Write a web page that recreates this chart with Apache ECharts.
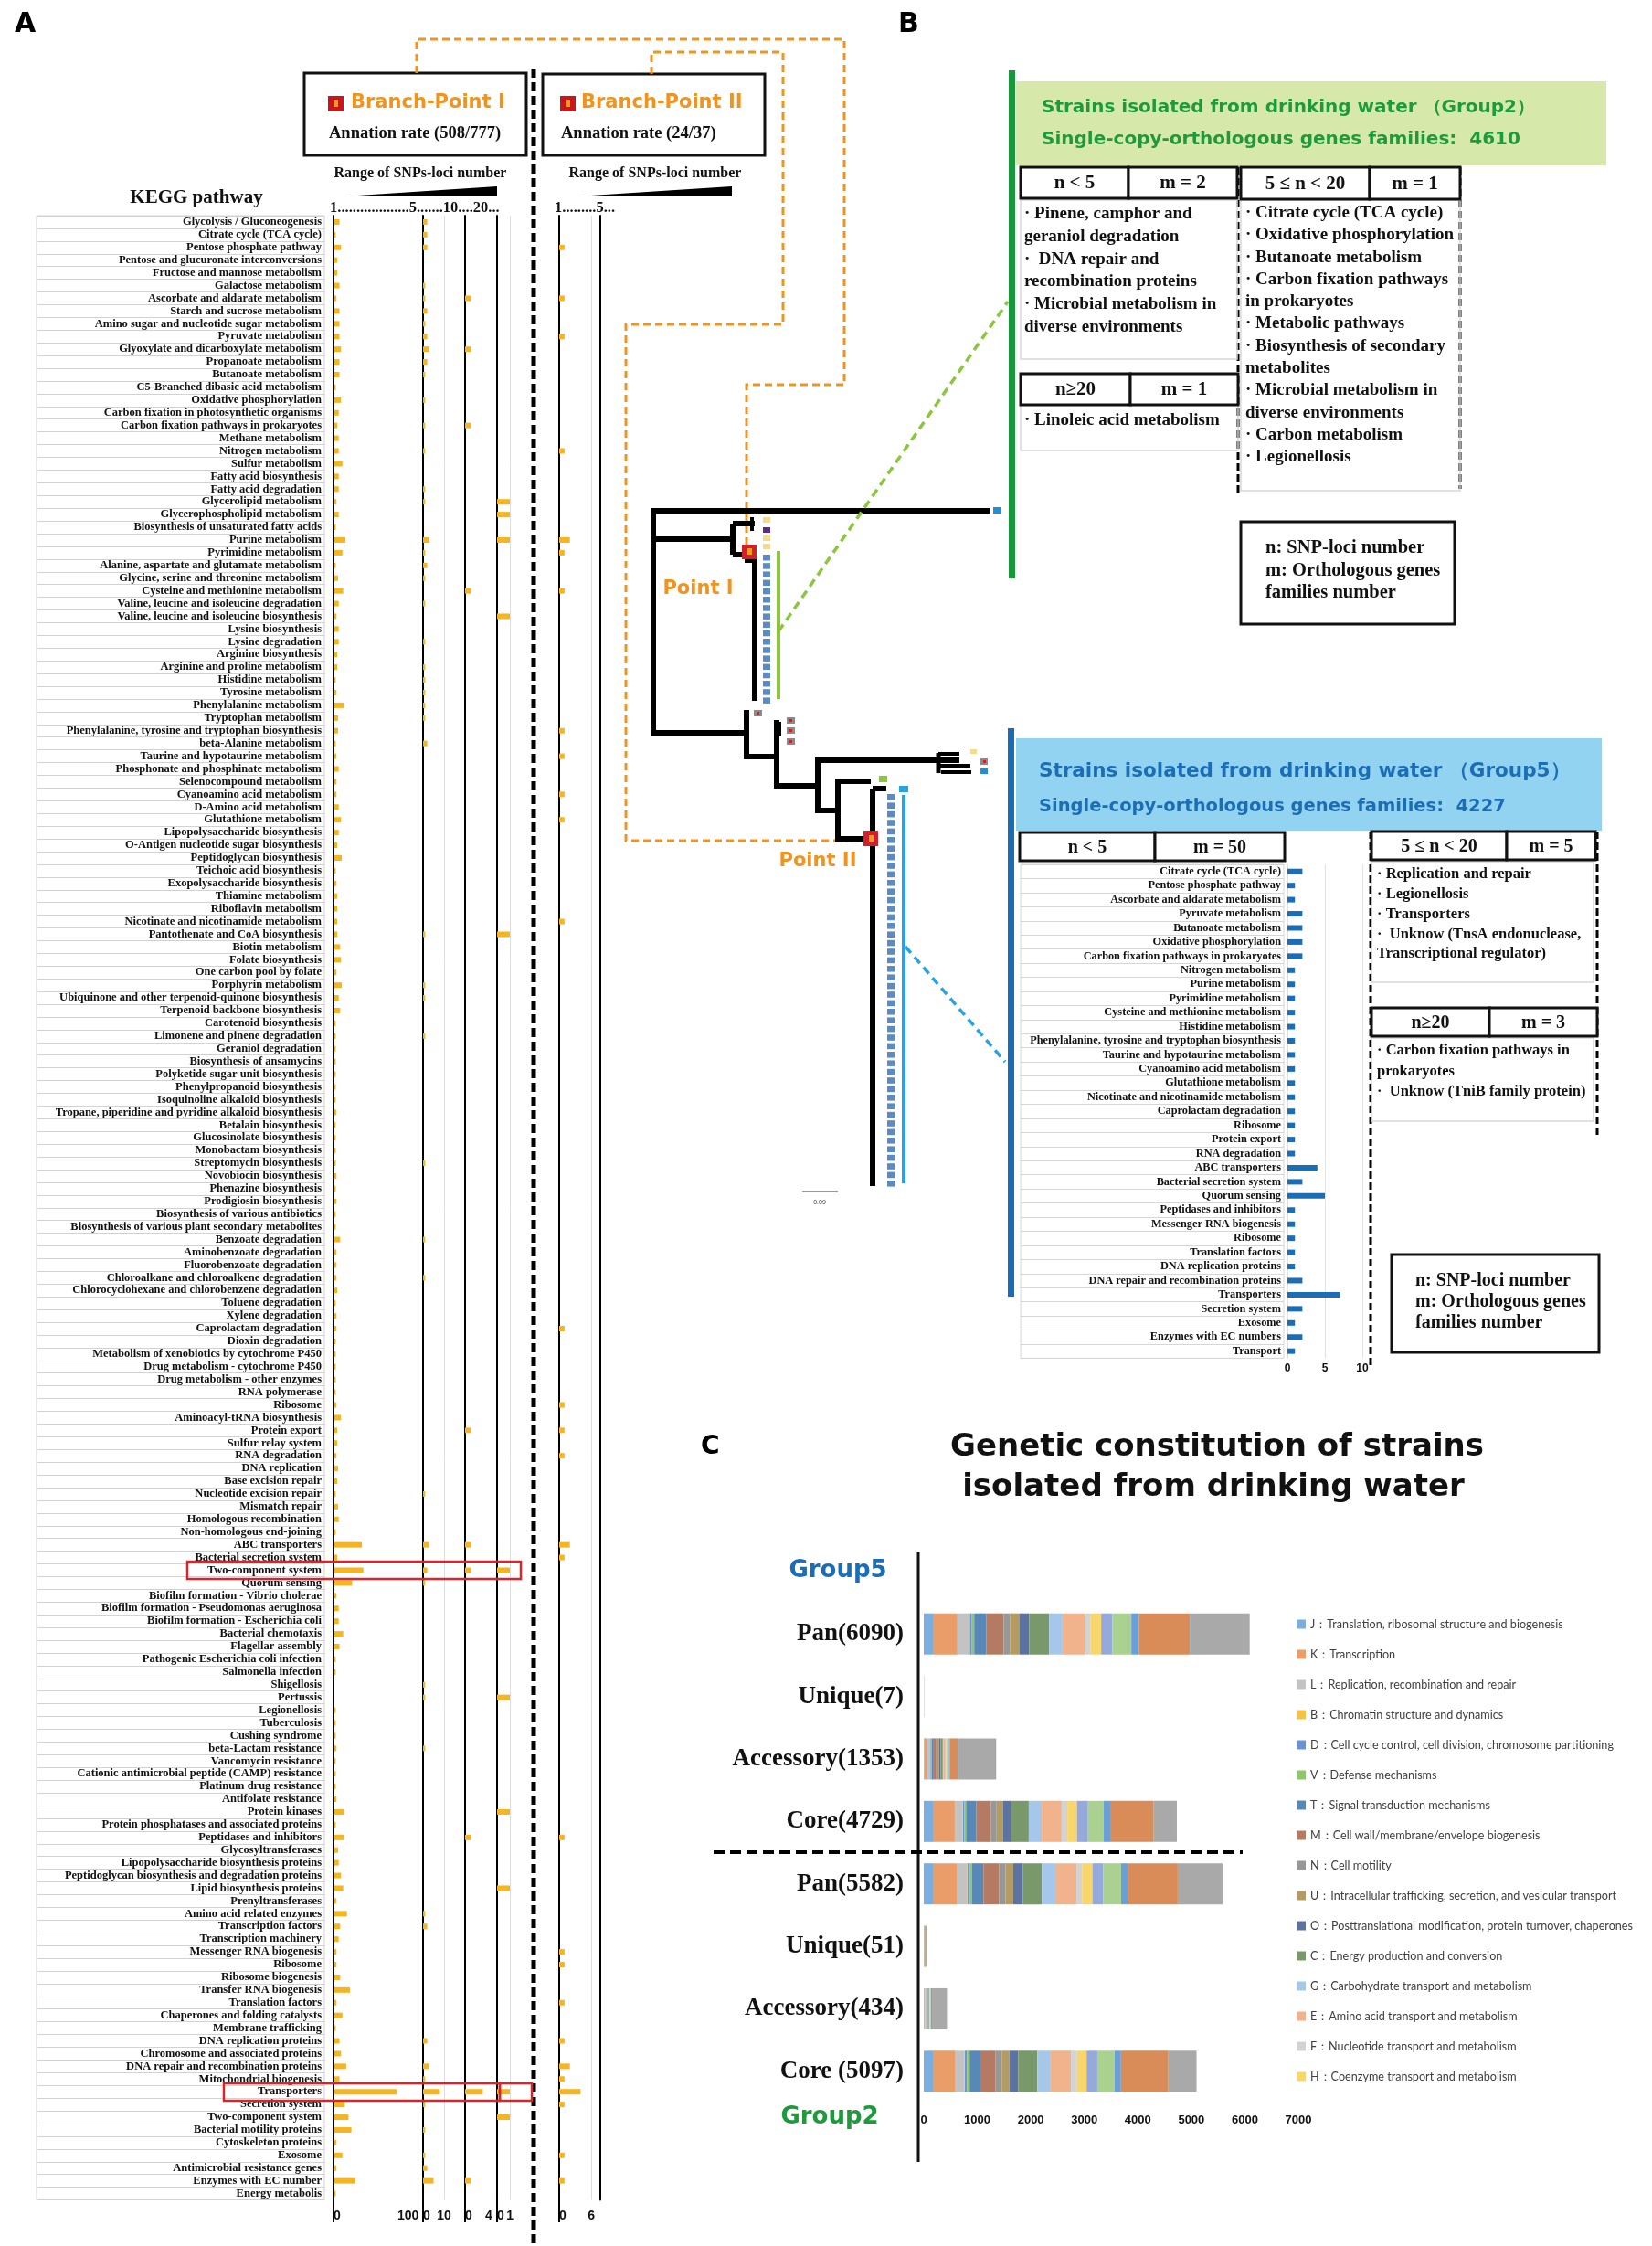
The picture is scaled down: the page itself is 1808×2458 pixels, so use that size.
<!DOCTYPE html>
<html>
<head>
<meta charset="utf-8">
<script src="https://cdn.jsdelivr.net/npm/echarts/dist/echarts.min.js"></script>
<style>html,body{margin:0;padding:0;background:#fff}#c{width:1808px;height:2458px}</style>
</head>
<body>
<div id="c"></div>
<script>
// ---------------- DATA ----------------
const keggPathways = [
"Glycolysis / Gluconeogenesis","Citrate cycle (TCA cycle)","Pentose phosphate pathway","Pentose and glucuronate interconversions","Fructose and mannose metabolism","Galactose metabolism","Ascorbate and aldarate metabolism","Starch and sucrose metabolism","Amino sugar and nucleotide sugar metabolism","Pyruvate metabolism",
"Glyoxylate and dicarboxylate metabolism","Propanoate metabolism","Butanoate metabolism","C5-Branched dibasic acid metabolism","Oxidative phosphorylation","Carbon fixation in photosynthetic organisms","Carbon fixation pathways in prokaryotes","Methane metabolism","Nitrogen metabolism","Sulfur metabolism",
"Fatty acid biosynthesis","Fatty acid degradation","Glycerolipid metabolism","Glycerophospholipid metabolism","Biosynthesis of unsaturated fatty acids","Purine metabolism","Pyrimidine metabolism","Alanine, aspartate and glutamate metabolism","Glycine, serine and threonine metabolism","Cysteine and methionine metabolism",
"Valine, leucine and isoleucine degradation","Valine, leucine and isoleucine biosynthesis","Lysine biosynthesis","Lysine degradation","Arginine biosynthesis","Arginine and proline metabolism","Histidine metabolism","Tyrosine metabolism","Phenylalanine metabolism","Tryptophan metabolism",
"Phenylalanine, tyrosine and tryptophan biosynthesis","beta-Alanine metabolism","Taurine and hypotaurine metabolism","Phosphonate and phosphinate metabolism","Selenocompound metabolism","Cyanoamino acid metabolism","D-Amino acid metabolism","Glutathione metabolism","Lipopolysaccharide biosynthesis","O-Antigen nucleotide sugar biosynthesis",
"Peptidoglycan biosynthesis","Teichoic acid biosynthesis","Exopolysaccharide biosynthesis","Thiamine metabolism","Riboflavin metabolism","Nicotinate and nicotinamide metabolism","Pantothenate and CoA biosynthesis","Biotin metabolism","Folate biosynthesis","One carbon pool by folate",
"Porphyrin metabolism","Ubiquinone and other terpenoid-quinone biosynthesis","Terpenoid backbone biosynthesis","Carotenoid biosynthesis","Limonene and pinene degradation","Geraniol degradation","Biosynthesis of ansamycins","Polyketide sugar unit biosynthesis","Phenylpropanoid biosynthesis","Isoquinoline alkaloid biosynthesis",
"Tropane, piperidine and pyridine alkaloid biosynthesis","Betalain biosynthesis","Glucosinolate biosynthesis","Monobactam biosynthesis","Streptomycin biosynthesis","Novobiocin biosynthesis","Phenazine biosynthesis","Prodigiosin biosynthesis","Biosynthesis of various antibiotics","Biosynthesis of various plant secondary metabolites",
"Benzoate degradation","Aminobenzoate degradation","Fluorobenzoate degradation","Chloroalkane and chloroalkene degradation","Chlorocyclohexane and chlorobenzene degradation","Toluene degradation","Xylene degradation","Caprolactam degradation","Dioxin degradation","Metabolism of xenobiotics by cytochrome P450",
"Drug metabolism - cytochrome P450","Drug metabolism - other enzymes","RNA polymerase","Ribosome","Aminoacyl-tRNA biosynthesis","Protein export","Sulfur relay system","RNA degradation","DNA replication","Base excision repair",
"Nucleotide excision repair","Mismatch repair","Homologous recombination","Non-homologous end-joining","ABC transporters","Bacterial secretion system","Two-component system","Quorum sensing","Biofilm formation - Vibrio cholerae","Biofilm formation - Pseudomonas aeruginosa",
"Biofilm formation - Escherichia coli","Bacterial chemotaxis","Flagellar assembly","Pathogenic Escherichia coli infection","Salmonella infection","Shigellosis","Pertussis","Legionellosis","Tuberculosis","Cushing syndrome",
"beta-Lactam resistance","Vancomycin resistance","Cationic antimicrobial peptide (CAMP) resistance","Platinum drug resistance","Antifolate resistance","Protein kinases","Protein phosphatases and associated proteins","Peptidases and inhibitors","Glycosyltransferases","Lipopolysaccharide biosynthesis proteins",
"Peptidoglycan biosynthesis and degradation proteins","Lipid biosynthesis proteins","Prenyltransferases","Amino acid related enzymes","Transcription factors","Transcription machinery","Messenger RNA biogenesis","Ribosome","Ribosome biogenesis","Transfer RNA biogenesis",
"Translation factors","Chaperones and folding catalysts","Membrane trafficking","DNA replication proteins","Chromosome and associated proteins","DNA repair and recombination proteins","Mitochondrial biogenesis","Transporters","Secretion system","Two-component system",
"Bacterial motility proteins","Cytoskeleton proteins","Exosome","Antimicrobial resistance genes","Enzymes with EC number","Energy metabolis"
];

// Branch-Point I : number of SNP loci per pathway, by range of SNPs-loci number
const bp1Lt5 = [
8,3,10,5,5,8,4,8,8,8,
10,8,8,3,10,7,5,7,7,12,
7,7,4,7,3,16,12,3,6,13,
7,4,7,7,5,5,3,4,14,6,
6,3,4,7,4,4,7,10,7,5,
11,3,4,5,5,5,5,9,10,4,
11,7,9,3,3,3,3,3,3,3,
4,3,3,3,3,4,3,4,3,3,
9,4,4,4,5,3,4,4,3,3,
3,3,3,4,10,5,5,4,6,5,
3,6,7,3,38,5,40,25,4,7,
7,13,8,3,3,0,0,3,3,3,
4,3,3,3,4,14,3,14,6,7,
10,13,4,18,9,7,4,4,9,22,
4,12,3,8,10,17,8,85,15,20,
24,4,12,4,29,3
];
const bp1From5To10 = [
2,2,2,0,0,1,1,2,1,2,
3,2,1,0,1,0,1,0,1,0,
0,1,1,0,0,3,1,2,1,0,
1,0,0,1,0,1,1,1,1,1,
0,2,0,0,0,0,0,0,0,0,
0,0,0,0,0,0,1,0,0,0,
1,1,0,0,1,0,0,0,0,0,
0,0,0,0,1,0,0,0,0,0,
1,0,0,1,0,0,0,0,0,0,
0,0,0,0,0,0,0,0,0,0,
1,0,0,0,3,0,2,1,0,0,
0,0,0,0,0,1,1,0,0,0,
1,0,0,0,0,0,0,0,0,0,
0,0,0,1,2,0,0,0,0,0,
0,0,0,2,0,3,1,8,1,0,
1,0,1,2,5,0
];
const bp1From10To20 = [
0,0,0,0,0,0,1,0,0,0,
1,0,0,0,0,0,1,0,0,0,
0,0,0,0,0,0,0,0,0,1,
0,0,0,0,0,0,0,0,0,0,
0,0,0,0,0,0,0,0,0,0,
0,0,0,0,0,0,0,0,0,0,
0,0,0,0,0,0,0,0,0,0,
0,0,0,0,0,0,0,0,0,0,
0,0,0,0,0,0,0,0,0,0,
0,0,0,0,0,1,0,0,0,0,
0,0,0,0,1,0,1,0,0,0,
0,0,0,0,0,0,0,0,0,0,
0,0,0,0,0,0,0,1,0,0,
0,0,0,0,0,0,0,0,0,0,
0,0,0,0,0,0,0,3,0,0,
0,0,0,0,1,0
];
const bp1Ge20 = [
0,0,0,0,0,0,0,0,0,0,
0,0,0,0,0,0,0,0,0,0,
0,0,1,1,0,1,0,0,0,0,
0,1,0,0,0,0,0,0,0,0,
0,0,0,0,0,0,0,0,0,0,
0,0,0,0,0,0,1,0,0,0,
0,0,0,0,0,0,0,0,0,0,
0,0,0,0,0,0,0,0,0,0,
0,0,0,0,0,0,0,0,0,0,
0,0,0,0,0,0,0,0,0,0,
0,0,0,0,0,0,1,0,0,0,
0,0,0,0,0,0,1,0,0,0,
0,0,0,0,0,1,0,0,0,0,
0,1,0,0,0,0,0,0,0,0,
0,0,0,0,0,0,0,1,0,1,
0,0,0,0,0,0
];
// Branch-Point II
const bp2Lt5 = [
0,0,1,0,0,0,1,0,0,1,
0,0,0,0,0,0,0,0,1,0,
0,0,0,0,0,2,1,0,0,1,
0,0,0,0,0,0,0,0,0,0,
1,0,1,0,0,1,0,1,0,0,
0,0,0,0,0,1,0,0,0,0,
0,0,0,0,0,0,0,0,0,0,
0,0,0,0,0,0,0,0,0,0,
0,0,0,0,0,0,0,1,0,0,
0,0,0,1,0,1,0,1,0,0,
0,0,0,0,2,1,0,0,0,0,
0,0,0,0,0,0,0,0,0,0,
0,0,0,0,0,0,0,1,0,0,
0,0,0,0,0,0,1,1,0,0,
1,0,0,1,0,2,1,4,1,0,
0,0,1,0,1,0
];
const bp1AxisLabels = [[0,100],[0,10],[0,4],[0,1]];
const bp2AxisLabels = [0,6];

// Panel B (Group5, n<5)
const group5Pathways = ["Citrate cycle (TCA cycle)","Pentose phosphate pathway","Ascorbate and aldarate metabolism","Pyruvate metabolism","Butanoate metabolism","Oxidative phosphorylation","Carbon fixation pathways in prokaryotes","Nitrogen metabolism","Purine metabolism","Pyrimidine metabolism","Cysteine and methionine metabolism","Histidine metabolism","Phenylalanine, tyrosine and tryptophan biosynthesis","Taurine and hypotaurine metabolism","Cyanoamino acid metabolism","Glutathione metabolism","Nicotinate and nicotinamide metabolism","Caprolactam degradation","Ribosome","Protein export","RNA degradation","ABC transporters","Bacterial secretion system","Quorum sensing","Peptidases and inhibitors","Messenger RNA biogenesis","Ribosome","Translation factors","DNA replication proteins","DNA repair and recombination proteins","Transporters","Secretion system","Exosome","Enzymes with EC numbers","Transport"];
const group5SnpLoci = [2,1,1,2,2,2,2,1,1,1,1,1,1,1,1,1,1,1,1,1,1,4,2,5,1,1,1,1,1,2,7,2,1,2,1];

// Panel C
const constitutionCategories = ["Pan(6090)","Unique(7)","Accessory(1353)","Core(4729)","Pan(5582)","Unique(51)","Accessory(434)","Core (5097)"];
const cogCodes = ["J","K","L","B","D","V","T","M","N","U","O","C","G","E","F","H","I","P","Q","R","S"];
const cogLegendCodes = ["J","K","L","B","D","V","T","M","N","U","O","C","G","E","F","H"];
const cogNames = {
  J:"Translation, ribosomal structure and biogenesis", K:"Transcription", L:"Replication, recombination and repair",
  B:"Chromatin structure and dynamics", D:"Cell cycle control, cell division, chromosome partitioning", V:"Defense mechanisms",
  T:"Signal transduction mechanisms", M:"Cell wall/membrane/envelope biogenesis", N:"Cell motility",
  U:"Intracellular trafficking, secretion, and vesicular transport", O:"Posttranslational modification, protein turnover, chaperones",
  C:"Energy production and conversion", G:"Carbohydrate transport and metabolism", E:"Amino acid transport and metabolism",
  F:"Nucleotide transport and metabolism", H:"Coenzyme transport and metabolism", I:"Lipid transport and metabolism",
  P:"Inorganic ion transport and metabolism", Q:"Secondary metabolites biosynthesis, transport and catabolism",
  R:"General function prediction only", S:"Function unknown"
};
// gene counts per COG (order of cogCodes)
const group5Pan       = [186,443,229,5,35,45,229,321,121,179,179,371,250,414,114,193,207,357,143,950,1119];
const group5Unique    = [0,0,2,0,0,0,0,0,0,0,0,0,0,0,0,0,0,0,0,0,5];
const group5Accessory = [8,50,64,2,10,15,36,50,14,36,29,42,7,43,7,14,7,36,17,150,716];
const group5Core      = [186,393,150,5,25,32,193,271,107,121,150,329,243,371,107,179,207,293,121,814,432];
const group2Pan       = [186,429,200,5,36,45,214,293,121,143,179,357,250,393,107,193,200,336,129,929,837];
const group2Unique    = [0,6,5,0,0,0,0,8,0,12,0,0,0,0,0,0,0,0,0,0,20];
const group2Accessory = [5,20,25,0,3,5,8,10,5,8,5,7,3,10,3,5,3,7,3,19,280];
const group2Core      = [186,407,171,5,40,48,200,286,114,143,164,357,250,379,114,179,200,321,121,886,526];

// ---------------- STYLE ----------------
const SERIF = '"Liberation Serif","DejaVu Serif",serif';
const SANS = '"Liberation Sans",Arial,sans-serif';
const HEAVY = '"DejaVu Sans",sans-serif';
const ORANGE = '#ef9421';
const BAR_YELLOW = '#f5b523';
const BLUE = '#1b6db6';
const GREEN = '#1e9a3c';
const cogColors = {J:'#7aaee0',K:'#ea9c69',L:'#c3c3c3',B:'#f5c343',D:'#6b93d1',V:'#8ec56d',T:'#5888b8',M:'#b57b62',N:'#979797',U:'#b49b61',O:'#5c73a1',C:'#79996a',G:'#a5c7e9',E:'#f1b38c',F:'#d3d3d3',H:'#f8d66b',I:'#95a9dd',P:'#abd190',Q:'#6aa0d8',R:'#da8c58',S:'#a9a9a9'};

const chart = echarts.init(document.getElementById('c'), null, {renderer:'canvas', width:1808, height:2458});

const grids = [], xAxes = [], yAxes = [], series = [];

// ---- Panel A label table ----
const A_TOP = 236, A_ROW = 13.92, A_H = A_ROW * keggPathways.length;
grids.push({left:40, top:A_TOP, width:315, height:A_H, show:true, borderColor:'#d2d2d2', borderWidth:1});
xAxes.push({gridIndex:0, type:'value', show:false, min:0, max:1});
yAxes.push({gridIndex:0, type:'category', data:keggPathways, inverse:true, position:'right',
  axisLine:{show:false}, axisTick:{show:false},
  axisLabel:{inside:true, interval:0, margin:3, fontFamily:SERIF, fontWeight:'bold', fontSize:12.5, color:'#111'},
  splitLine:{show:true, interval:0, lineStyle:{color:'#d2d2d2', width:1}}});

// ---- Panel A columns ----
const colSpecs = [
  {left:365, width:98, max:120, interval:100, labels:bp1AxisLabels[0], mark:null, values:bp1Lt5},
  {left:463, width:46, max:20,  interval:10,  labels:bp1AxisLabels[1], mark:10,   values:bp1From5To10},
  {left:509, width:35, max:5.4, interval:4,   labels:bp1AxisLabels[2], mark:null, values:bp1From10To20},
  {left:544, width:38, max:2.7, interval:1,   labels:bp1AxisLabels[3], mark:1,    values:bp1Ge20},
  {left:612, width:45, max:7.7, interval:6,   labels:bp2AxisLabels,    mark:6,    values:bp2Lt5},
  {left:657, width:30, max:1,   interval:1,   labels:[],               mark:null, values:null}
];
colSpecs.forEach(c => {
  const gi = grids.length;
  grids.push({left:c.left, top:A_TOP, width:c.width, height:A_H});
  xAxes.push({gridIndex:gi, type:'value', min:0, max:c.max, interval:c.interval, show:c.labels.length>0,
    axisLine:{show:false}, axisTick:{show:false}, splitLine:{show:false},
    axisLabel:{margin:11, fontFamily:SANS, fontWeight:'bold', fontSize:14, color:'#111', alignMinLabel:'left', showMaxLabel:false,
      formatter: v => (c.labels.indexOf(v) >= 0 ? String(v) : '')}});
  yAxes.push({gridIndex:gi, type:'category', data:keggPathways, inverse:true,
    axisLine:{show:true, lineStyle:{color:'#000', width:2}}, axisTick:{show:false}, axisLabel:{show:false}, splitLine:{show:false}});
  if (c.values) {
    const s = {type:'bar', xAxisIndex:gi, yAxisIndex:gi, data:c.values, barWidth:6, silent:true, itemStyle:{color:BAR_YELLOW}};
    if (c.mark != null) s.markLine = {silent:true, symbol:'none', label:{show:false}, lineStyle:{color:'#dedede', width:1, type:'solid'}, data:[{xAxis:c.mark}]};
    series.push(s);
  }
});

// ---- Panel B bar chart ----
const B_TOP = 946, B_ROW = 15.44, B_H = B_ROW * group5Pathways.length;
let gi = grids.length;
grids.push({left:1117, top:B_TOP, width:288, height:B_H, show:true, borderColor:'#d6d6d6', borderWidth:1});
xAxes.push({gridIndex:gi, type:'value', show:false, min:0, max:1});
yAxes.push({gridIndex:gi, type:'category', data:group5Pathways, inverse:true, position:'right',
  axisLine:{show:false}, axisTick:{show:false},
  axisLabel:{inside:true, interval:0, margin:3, fontFamily:SERIF, fontWeight:'bold', fontSize:12.3, color:'#111'},
  splitLine:{show:true, interval:0, lineStyle:{color:'#d6d6d6', width:1}}});
gi = grids.length;
grids.push({left:1409, top:B_TOP, width:82, height:B_H});
xAxes.push({gridIndex:gi, type:'value', min:0, max:10, interval:5,
  axisLine:{show:false}, axisTick:{show:false},
  splitLine:{show:true, lineStyle:{color:'#e2e2e2', width:1}},
  axisLabel:{margin:5, fontFamily:SANS, fontWeight:'bold', fontSize:12, color:'#111'}});
yAxes.push({gridIndex:gi, type:'category', data:group5Pathways, inverse:true, show:false});
series.push({type:'bar', xAxisIndex:gi, yAxisIndex:gi, data:group5SnpLoci, barWidth:6, silent:true, itemStyle:{color:BLUE}});

// ---- Panel C stacked bars ----
gi = grids.length;
grids.push({left:1011, top:1754, width:410, height:547});
xAxes.push({gridIndex:gi, type:'value', min:0, max:7000, interval:1000,
  axisLine:{show:false}, axisTick:{show:false}, splitLine:{show:false},
  axisLabel:{margin:13, fontFamily:SANS, fontWeight:'bold', fontSize:13, color:'#111', formatter: v => String(v)}});
yAxes.push({gridIndex:gi, type:'category', data:constitutionCategories, inverse:true,
  axisLine:{show:false}, axisTick:{show:false},
  axisLabel:{margin:22, fontFamily:SERIF, fontWeight:'bold', fontSize:27, color:'#111'}});
const constitutionRows = [group5Pan, group5Unique, group5Accessory, group5Core, group2Pan, group2Unique, group2Accessory, group2Core];
cogCodes.forEach((code, k) => {
  series.push({type:'bar', name:code, stack:'cog', xAxisIndex:gi, yAxisIndex:gi, barWidth:45, silent:true,
    itemStyle:{color:cogColors[code]}, data:constitutionRows.map(r => r[k])});
});

// ---------------- GRAPHIC (annotations, tree, boxes) ----------------
const G = [];
function line(x1,y1,x2,y2,stroke,w,dash){G.push({type:'line',silent:true,z:100,shape:{x1,y1,x2,y2},style:{stroke,lineWidth:w,lineDash:dash||null}});}
function pline(points,stroke,w,dash){G.push({type:'polyline',silent:true,z:100,shape:{points},style:{stroke,lineWidth:w,fill:null,lineDash:dash||null,lineJoin:'miter'}});}
function rect(x,y,w,h,fill,stroke,lw,dash){G.push({type:'rect',silent:true,z:100,shape:{x,y,width:w,height:h},style:{fill:fill||'none',stroke:stroke||null,lineWidth:lw||0,lineDash:dash||null}});}
function poly(points,fill){G.push({type:'polygon',silent:true,z:100,shape:{points},style:{fill}});}
function text(t,x,y,font,fill,align){G.push({type:'text',silent:true,z:101,x,y,style:{text:t,font,fill,textAlign:align||'left',textVerticalAlign:'middle',align:align||'left',verticalAlign:'middle'}});}
const sb = s => `bold ${s}px ${SERIF}`;

// Panel letters
text('A', 16, 27, `bold 30px ${HEAVY}`, '#000');
text('B', 983, 27, `bold 30px ${HEAVY}`, '#000');
text('C', 767, 1584, `bold 28px ${HEAVY}`, '#000');

// Panel A header
rect(333, 80, 243, 90, 'none', '#111', 3);
rect(594, 81, 243, 89, 'none', '#111', 3);
rect(359, 105, 17, 17, '#c8161d'); rect(365, 109, 5, 8, '#f39a1e');
rect(613, 105, 17, 17, '#c8161d'); rect(619, 109, 5, 8, '#f39a1e');
text('Branch-Point I', 384, 113, `bold 21px ${HEAVY}`, ORANGE);
text('Branch-Point II', 636, 113, `bold 21px ${HEAVY}`, ORANGE);
text('Annation rate (508/777)', 360, 146, sb(18.5), '#111');
text('Annation rate (24/37)', 614, 146, sb(18.5), '#111');
text('Range of SNPs-loci number', 460, 190, sb(16), '#111', 'center');
text('Range of SNPs-loci number', 717, 190, sb(16), '#111', 'center');
poly([[376,215],[544,204],[544,215]], '#000');
poly([[631,215],[801,204],[801,215]], '#000');
text('1...................5.......10....20...', 361, 228, sb(16.5), '#111');
text('1.........5...', 607, 228, sb(16.5), '#111');
text('KEGG pathway', 215, 217, sb(21), '#111', 'center');
// column lines extend below grid
[365,463,509,544,612].forEach(x => line(x, A_TOP + A_H, x, 2432, '#000', 2));
// central dashed separator
line(584, 75, 584, 2458, '#000', 5, [10,5]);
// highlight boxes
rect(205, 1709, 365, 19, 'none', '#d7262b', 2.5);
rect(245, 2280, 302, 19, 'none', '#d7262b', 2.5);
rect(547, 2280, 35, 19, 'none', '#d7262b', 2.5);

// Orange connectors
pline([[456,80],[456,43],[924,43],[924,421],[817,421],[817,596]], ORANGE, 3, [8,5]);
pline([[713,81],[713,57],[857,57],[857,355],[685,355],[685,920],[945,920]], ORANGE, 3, [8,5]);

// ---- Tree ----
const K = '#000', TW = 6;
pline([[1083,559],[715,559],[715,802],[817,802]], K, TW);
line(715,590,802,590,K,TW);
line(802,573,802,607,K,TW);
line(802,573,826,573,K,TW);
line(823,566,823,581,K,4);
line(802,607,822,607,K,TW);
line(815,613,826,613,K,TW);
line(826,612,826,767,K,TW);
pline([[817,777],[817,828],[850,828]], K, TW);
pline([[850,788],[850,860],[895,860]], K, TW);
line(853,790,853,805,K,4);
pline([[1050,832],[895,832],[895,887],[917,887]], K, TW);
line(1027,824,1027,846,K,5);
line(1027,825,1050,825,K,4);
line(1027,838,1062,838,K,4);
line(1030,845,1063,845,K,4);
pline([[953,855],[917,855],[917,918],[945,918]], K, TW);
line(955,863,955,1298,K,TW);
line(955,863,970,863,K,TW);
// point markers
rect(812, 596, 16, 16, '#d0202a'); rect(817, 600, 6, 7, '#f39a1e');
rect(945, 909, 16, 17, '#d0202a'); rect(951, 914, 5, 7, '#f39a1e');
text('Point I', 764, 645, `bold 21px ${HEAVY}`, ORANGE, 'center');
text('Point II', 895, 943, `bold 21px ${HEAVY}`, ORANGE, 'center');
// tip strips
rect(835, 566, 8, 6, '#f3dc8c'); rect(835, 577, 8, 6, '#5b2a8b');
rect(835, 586, 8, 6, '#f3dc8c'); rect(835, 595, 8, 6, '#f3dc8c');
for (let y = 607; y < 764; y += 9.2) rect(835, y, 8, 6.5, '#5b8ac4');
rect(850, 603, 4, 162, '#8cc63f');
for (let y = 869; y < 1298; y += 9.4) rect(971, y, 8, 6.6, '#5b8ac4');
rect(987, 870, 4, 425, '#29a3e0');
rect(984, 860, 10, 7, '#29a3e0');
rect(962, 849, 9, 7, '#8cc63f');
rect(1087, 555, 9, 7, '#1f8fd6');
rect(1062, 820, 7, 5, '#f3dc8c');
rect(1073, 830, 8, 7, '#8a8a8a'); rect(1076, 832, 3, 3, '#d0202a');
rect(1073, 841, 8, 6, '#1f8fd6');
[[825,777],[861,785],[861,796],[861,808]].forEach(p => { rect(p[0], p[1], 9, 7, '#8a8a8a'); rect(p[0]+3, p[1]+2, 3, 3, '#d0202a'); });
line(878,1304,917,1304,'#333',1);
text('0.09', 897, 1316, `7px ${SANS}`, '#333', 'center');
// connector dashes
line(852, 691, 1103, 330, '#8cc63f', 3.5, [9,6]);
line(991, 1036, 1100, 1162, '#29a3e0', 3.5, [9,6]);

// ---- Panel B Group2 ----
rect(1104, 77, 7, 556, '#17993b');
rect(1112, 89, 646, 92, '#d6e9ab');
text('Strains isolated from drinking water \uFF08Group2\uFF09', 1140, 118, `bold 20px ${HEAVY}`, GREEN);
text('Single-copy-orthologous genes families:  4610', 1140, 153, `bold 20px ${HEAVY}`, GREEN);
line(1355, 183, 1355, 540, '#000', 3, [8,4]);
line(1598, 183, 1598, 535, '#000', 3, [8,4]);
rect(1117, 219, 237, 174, 'none', '#d8d8d8', 1.5);
rect(1117, 443, 238, 50, 'none', '#d8d8d8', 1.5);
rect(1358, 219, 240, 318, 'none', '#d8d8d8', 1.5);
[[1117,183,118,34,'n < 5'],[1235,183,119,34,'m = 2'],[1358,183,141,35,'5 \u2264 n < 20'],[1499,183,99,35,'m = 1'],
 [1117,409,120,34,'n\u226520'],[1237,409,118,34,'m = 1']].forEach(b => {
  rect(b[0], b[1], b[2], b[3], '#fff', '#111', 3);
  text(b[4], b[0] + b[2]/2, b[1] + b[3]/2 + 1, sb(21), '#111', 'center');
});
['\u00B7 Pinene, camphor and','geraniol degradation','\u00B7  DNA repair and','recombination proteins','\u00B7 Microbial metabolism in','diverse environments']
  .forEach((t,i) => text(t, 1121, 234 + i*24.8, sb(19), '#111'));
text('\u00B7 Linoleic acid metabolism', 1121, 460, sb(19), '#111');
['\u00B7 Citrate cycle (TCA cycle)','\u00B7 Oxidative phosphorylation','\u00B7 Butanoate metabolism','\u00B7 Carbon fixation pathways','in prokaryotes','\u00B7 Metabolic pathways','\u00B7 Biosynthesis of secondary','metabolites','\u00B7 Microbial metabolism in','diverse environments','\u00B7 Carbon metabolism','\u00B7 Legionellosis']
  .forEach((t,i) => text(t, 1363, 233 + i*24.3, sb(19), '#111'));
rect(1358, 571, 234, 112, '#fff', '#111', 3);
['n: SNP-loci number','m: Orthologous genes','families number'].forEach((t,i) => text(t, 1385, 600 + i*24.5, sb(20.5), '#111'));

// ---- Panel B Group5 ----
rect(1103, 797, 7, 622, '#1a6db5');
rect(1112, 808, 641, 101, '#92d3f2');
text('Strains isolated from drinking water \uFF08Group5\uFF09', 1137, 844, `bold 21.5px ${HEAVY}`, BLUE);
text('Single-copy-orthologous genes families:  4227', 1137, 883, `bold 19.5px ${HEAVY}`, BLUE);
line(1500, 910, 1500, 1496, '#000', 3, [8,4]);
line(1748, 910, 1748, 1246, '#000', 3, [8,4]);
rect(1501, 943, 243, 132, 'none', '#d8d8d8', 1.5);
rect(1501, 1136, 243, 91, 'none', '#d8d8d8', 1.5);
[[1116,911,148,31,'n < 5'],[1264,911,142,31,'m = 50'],[1501,910,148,31,'5 \u2264 n < 20'],[1649,910,97,31,'m = 5'],
 [1501,1103,129,31,'n\u226520'],[1630,1103,118,31,'m = 3']].forEach(b => {
  rect(b[0], b[1], b[2], b[3], '#fff', '#111', 3);
  text(b[4], b[0] + b[2]/2, b[1] + b[3]/2 + 1, sb(20), '#111', 'center');
});
['\u00B7 Replication and repair','\u00B7 Legionellosis','\u00B7 Transporters','\u00B7  Unknow (TnsA endonuclease,','Transcriptional regulator)']
  .forEach((t,i) => text(t, 1507, 957 + i*21.8, sb(16.5), '#111'));
['\u00B7 Carbon fixation pathways in','prokaryotes','\u00B7  Unknow (TniB family protein)']
  .forEach((t,i) => text(t, 1507, 1150 + i*22.5, sb(16.5), '#111'));
rect(1523, 1373, 227, 107, '#fff', '#111', 3);
['n: SNP-loci number','m: Orthologous genes','families number'].forEach((t,i) => text(t, 1549, 1402 + i*23, sb(20), '#111'));

// ---- Panel C annotations ----
text('Genetic constitution of strains', 1332, 1584, `bold 34px ${HEAVY}`, '#111', 'center');
text('isolated from drinking water', 1328, 1628, `bold 34px ${HEAVY}`, '#111', 'center');
text('Group5', 917, 1719, `bold 26px ${HEAVY}`, BLUE, 'center');
text('Group2', 908, 2317, `bold 26px ${HEAVY}`, GREEN, 'center');
line(1005, 1698, 1005, 2366, '#111', 3);
line(781, 2027, 1360, 2027, '#000', 4, [12,6]);

const option = {
  animation:false,
  backgroundColor:'#fff',
  textStyle:{fontFamily:SANS},
  grid:grids, xAxis:xAxes, yAxis:yAxes, series:series,
  legend:{data:cogLegendCodes, orient:'vertical', left:1414, top:1765, itemWidth:10, itemHeight:10, itemGap:18, icon:'rect',
    selectedMode:false, formatter: n => n + '\uFF1A' + cogNames[n],
    textStyle:{fontFamily:'Lato, "Noto Sans", sans-serif', fontSize:12.6, color:'#404040', lineHeight:15}},
  graphic:{elements:G}
};
chart.setOption(option);
</script>
</body>
</html>
